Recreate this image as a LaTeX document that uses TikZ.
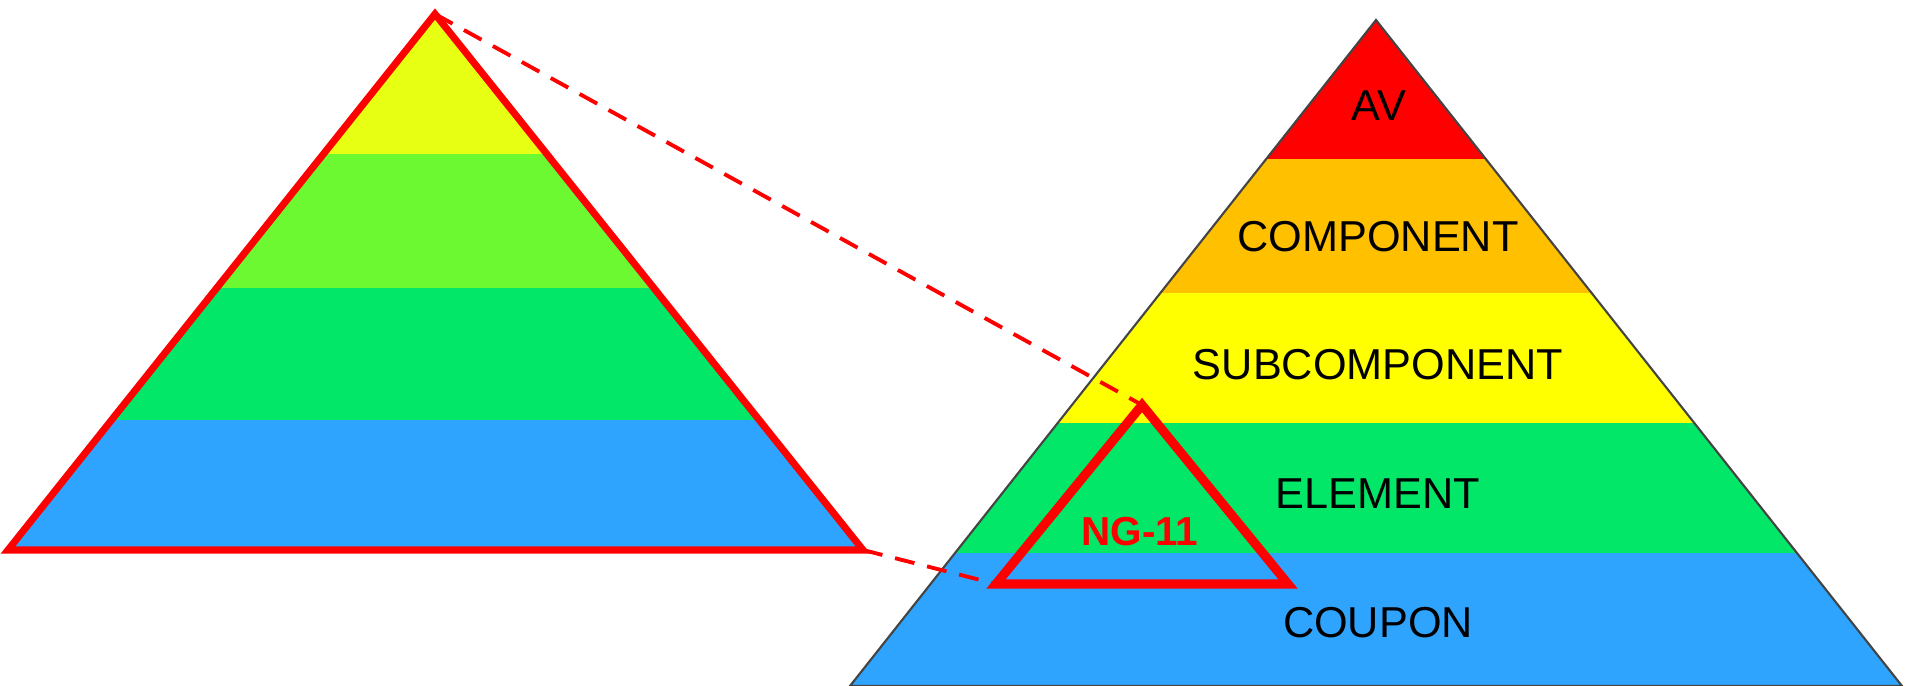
\documentclass[tikz,border=0pt]{standalone}
\usepackage{fontspec}
\setmainfont{Liberation Sans}
\usetikzlibrary{calc}
\definecolor{avred}{HTML}{FF0000}
\definecolor{compgold}{HTML}{FFC000}
\definecolor{subyellow}{HTML}{FFFF00}
\definecolor{elemgreen}{HTML}{02E768}
\definecolor{coupblue}{HTML}{2EA4FF}
\definecolor{zoomyellow}{HTML}{E6FF12}
\definecolor{zoomlime}{HTML}{6CF932}
\definecolor{edgegray}{HTML}{444444}

\begin{document}
\begin{tikzpicture}[
    x=0.01cm, y=-0.01cm,
    levelname/.style={font=\fontsize{12.3}{15}\selectfont, text=black},
    zoomline/.style={draw=red, line width=1.1pt, dash pattern=on 5.7pt off 3.7pt},
    every node/.style={inner sep=0pt}
]
    \useasboundingbox (0,0) rectangle (1905,686);

    % Corners of the triangles
    \coordinate (lapex) at (435,14);
    \coordinate (lleft) at (8,550);
    \coordinate (lright) at (863,550);
    \coordinate (rapex) at (1376,20);
    \coordinate (rleft) at (850,686);
    \coordinate (rright) at (1902,686);
    \coordinate (sapex) at (1142,405);
    \coordinate (sleft) at (996,584);
    \coordinate (sright) at (1288,584);

    % Pyramid of test levels
    \begin{scope}
        \clip (rapex) -- (rleft) -- (rright) -- cycle;
        \foreach \ya/\yb/\col in {0/159/avred, 159/293/compgold, 293/423/subyellow, 423/553/elemgreen, 553/700/coupblue} {
            \fill[\col] (800,\ya) rectangle (1905,\yb);
        }
    \end{scope}
    \draw[edgegray, line width=0.6pt] (rapex) -- (rleft) -- (rright) -- cycle;

    \node[levelname] (av) at (1379,106) {AV};
    \node[levelname] (comp) at (1378,237) {COMPONENT};
    \node[levelname] (subcomp) at (1378,365) {SUBCOMPONENT};
    \node[levelname] (elem) at (1378,494) {ELEMENT};
    \node[levelname] (coupon) at (1378,623) {COUPON};

    % Zoomed-in pyramid
    \begin{scope}
        \clip (lapex) -- (lleft) -- (lright) -- cycle;
        \foreach \ya/\yb/\col in {0/154/zoomyellow, 154/288/zoomlime, 288/420/elemgreen, 420/560/coupblue} {
            \fill[\col] (0,\ya) rectangle (900,\yb);
        }
    \end{scope}
    \draw[red, line width=2pt] (lapex) -- (lleft) -- (lright) -- cycle;

    % Test article
    \draw[red, line width=2.6pt] (sapex) -- (sleft) -- (sright) -- cycle;
    \node[font=\fontsize{11.5}{14}\selectfont\bfseries, text=red] (ng) at (1140,532) {NG-11};

    % Zoom lines
    \draw[zoomline] (lapex) -- (sapex);
    \draw[zoomline] (lright) -- (sleft);
\end{tikzpicture}
\end{document}
